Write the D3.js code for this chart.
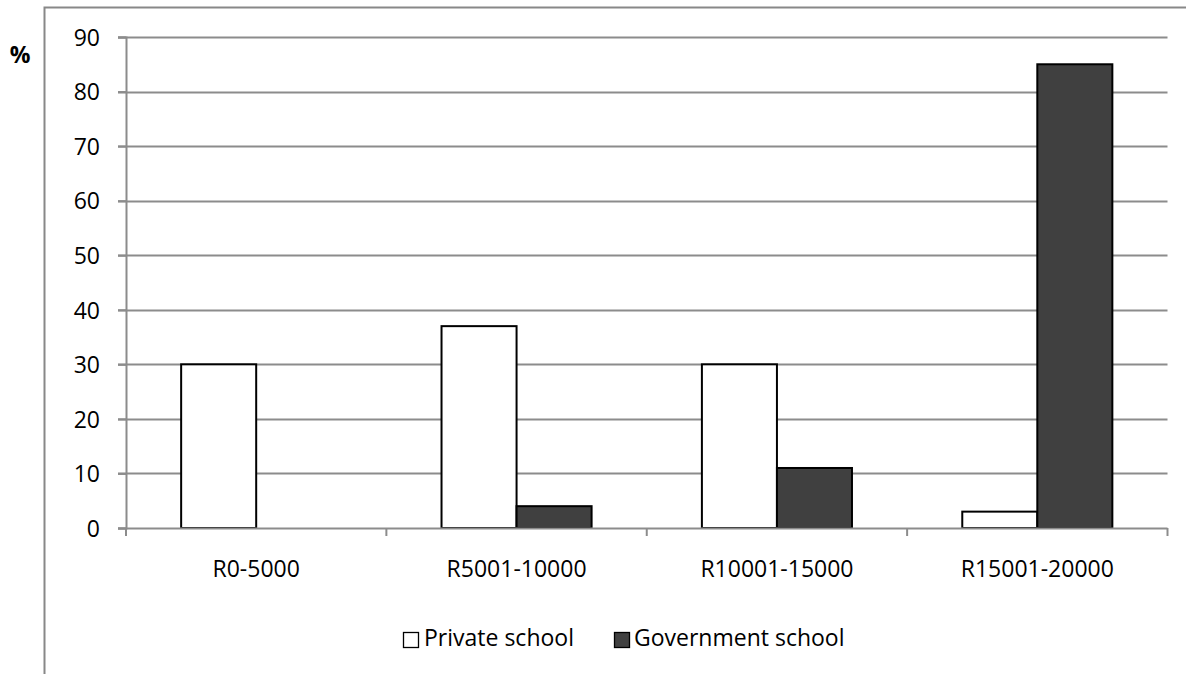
<!DOCTYPE html>
<html><head><meta charset="utf-8">
<script src="https://cdn.jsdelivr.net/npm/d3@7"></script>
<style>body{margin:0;background:#fff}svg{display:block}text{font-family:"Open Sans","Liberation Sans",sans-serif;fill:#000}</style>
</head><body><svg id="c" width="1186" height="674"></svg>
<script>
const categories = ["R0-5000","R5001-10000","R10001-15000","R15001-20000"];
const seriesNames = ["Private school","Government school"];
const privateVals = [30,37,30,3];
const govVals = [0,4,11,85];
const yTicks = [0,10,20,30,40,50,60,70,80,90];

(function(){
const svg = d3.select("#c");
const colors = ["#ffffff","#404040"];
const pLeft=126,pRight=1167.5,pTop=37,pBottom=528;
const FS=23;

// outer border
svg.append("path").attr("d","M44.5,674 L44.5,7.5 L1186,7.5").attr("fill","none").attr("stroke","#888").attr("stroke-width",2);

const x = d3.scaleBand().domain(categories).range([pLeft,pRight]);
const y = d3.scaleLinear().domain([0,90]).range([pBottom,pTop]);
const xs = d3.scaleBand().domain(seriesNames).range([0,x.bandwidth()]).paddingOuter(0.735).paddingInner(0);

// gridlines
svg.append("g").selectAll("line").data(yTicks.filter(d=>d>0)).join("line")
  .attr("x1",pLeft-8).attr("x2",pRight).attr("y1",d=>Math.round(y(d))+0.5).attr("y2",d=>Math.round(y(d))+0.5)
  .attr("stroke","#8c8c8c").attr("stroke-width",2);

const yAxis = svg.append("g").attr("transform",`translate(${pLeft},0)`)
  .call(d3.axisLeft(y).tickValues(yTicks).tickSize(8).tickPadding(10));
yAxis.attr("font-size",FS).attr("font-family",null);
yAxis.select(".domain").attr("stroke","#8c8c8c").attr("stroke-width",2);
yAxis.selectAll(".tick line").attr("stroke","#8c8c8c").attr("stroke-width",2);
yAxis.selectAll("text").attr("font-size",FS).attr("x",-26).attr("dy","0.36em");

// bars
const series = [privateVals, govVals];
const g = svg.append("g");
series.forEach((vals,si)=>{
  g.selectAll(".s"+si).data(vals).join("rect").attr("class","s"+si)
    .attr("x",(d,i)=>x(categories[i])+xs(seriesNames[si]))
    .attr("width",xs.bandwidth())
    .attr("y",d=>y(d)).attr("height",d=>y(0)-y(d))
    .attr("fill",colors[si]).attr("stroke",d=>d>0?"#000":"none").attr("stroke-width",2);
});

const xAxis = svg.append("g").attr("transform",`translate(0,${pBottom})`)
  .call(d3.axisBottom(x).tickSize(0).tickPadding(0));
xAxis.attr("font-size",FS).attr("font-family",null);
xAxis.select(".domain").remove();
xAxis.selectAll("text").attr("font-size",FS).attr("y",49).attr("dy",0);
svg.append("line").attr("x1",pLeft-8).attr("x2",pRight).attr("y1",pBottom+0.5).attr("y2",pBottom+0.5).attr("stroke","#8c8c8c").attr("stroke-width",2);
const bounds = categories.map(c=>x(c)).concat([pRight]);
svg.append("g").selectAll("line").data(bounds).join("line")
  .attr("x1",d=>d).attr("x2",d=>d).attr("y1",pBottom).attr("y2",pBottom+8).attr("stroke","#8c8c8c").attr("stroke-width",2);

// % label
svg.append("text").attr("x",20).attr("y",63).attr("text-anchor","middle").attr("font-size",FS).attr("font-weight","bold").text("%");

// legend
const leg = [{x:403.5,tx:424},{x:614.5,tx:634}];
seriesNames.forEach((n,i)=>{
  svg.append("rect").attr("x",leg[i].x).attr("y",632.5).attr("width",15).attr("height",15)
    .attr("fill",colors[i]).attr("stroke","#000").attr("stroke-width",1.3);
  svg.append("text").attr("x",leg[i].tx).attr("y",646).attr("font-size",FS).text(n);
});
})();
</script></body></html>
